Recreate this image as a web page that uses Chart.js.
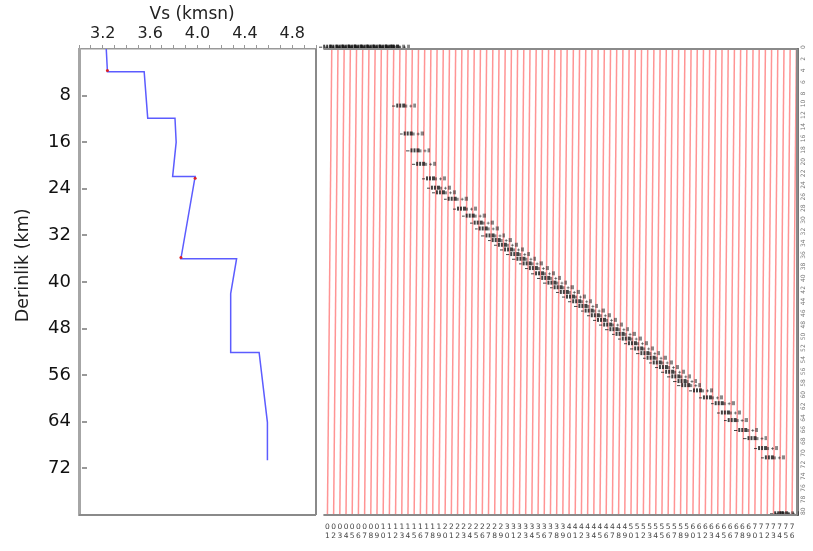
<!DOCTYPE html>
<html>
<head>
<meta charset="utf-8">
<title>Vs - Derinlik</title>
<script src="https://cdn.jsdelivr.net/npm/chart.js@4.4.1/dist/chart.umd.min.js"></script>
<style>
  body { margin: 0; background: #fff; }
  #wrap { position: relative; width: 813px; height: 551px; overflow: hidden; }
  #vs-chart { position: absolute; left: 0; top: 0; }
  #rf-chart { position: absolute; left: 317px; top: 0; }
</style>
</head>
<body>
<div id="wrap">
  <canvas id="vs-chart" width="320" height="551" style="width:320px;height:551px"></canvas>
  <canvas id="rf-chart" width="496" height="551" style="width:496px;height:551px"></canvas>
</div>
<script>
// hiz profili (derinlik km, Vs km/sn)
const depthKm = [0, 3.9, 3.9, 11.9, 11.9, 16.0, 21.9, 21.9, 36.0, 36.0, 42.0, 52.1, 52.1, 64.1, 70.6];
const vsKms   = [3.23, 3.24, 3.55, 3.58, 3.81, 3.82, 3.79, 3.98, 3.86, 4.33, 4.28, 4.28, 4.52, 4.59, 4.59];

// gradyan baslangic noktalari (kirmizi)
const nodeDepth = [3.7, 22.2, 35.8];
const nodeVs    = [3.24, 3.98, 3.86];

const vsTickLabels = ['3.2', '3.6', '4.0', '4.4', '4.8'];
const depthTickLabels = [8, 16, 24, 32, 40, 48, 56, 64, 72];

// iz numaralari
const traceLabels = [
  '01','02','03','04','05','06','07','08','09','10','11','12','13','14','15','16','17','18','19',
  '20','21','22','23','24','25','26','27','28','29','30','31','32','33','34','35','36','37','38',
  '39','40','41','42','43','44','45','46','47','48','49','50','51','52','53','54','55','56','57',
  '58','59','60','61','62','63','64','65','66','67','68','69','70','71','72','73','74','75','76'
];

// okunan fazlar (iz konumu, derinlik)
const pickTrace = [13.4,14.6,15.7,16.6,18.2,19.0,19.8,21.7,23.2,24.6,25.9,26.7,
  27.8,28.8,29.8,30.8,31.8,32.8,33.8,34.8,35.8,36.8,37.8,38.8,39.8,40.8,41.8,42.8,
  43.8,44.8,45.8,46.8,47.8,48.8,49.8,50.8,51.8,52.8,53.8,54.8,55.8,56.8,57.8,58.8,
  59.4,61.3,62.9,64.8,65.8,66.9,68.6,70.1,71.8,72.9];
const pickDepth = [9.7,14.5,17.4,19.7,22.2,23.8,24.6,25.7,27.4,28.6,29.8,30.8,
  32.0,32.8,33.6,34.4,35.2,36.0,36.8,37.6,38.5,39.3,40.1,40.9,41.7,42.5,43.3,44.1,
  44.9,45.7,46.5,47.3,48.1,48.9,49.7,50.5,51.4,52.2,53.0,53.8,54.6,55.4,56.2,57.0,
  57.7,58.6,59.8,60.8,62.4,63.7,65.4,66.8,68.5,70.1];

const edgePickTrace = [1.6,2.6,3.6,4.6,5.6,6.6,7.6,8.6,9.6,10.6,11.6,12.4, 74.4,75.2];
const edgePickDepth = [-0.4,-0.4,-0.4,-0.4,-0.4,-0.4,-0.4,-0.4,-0.4,-0.4,-0.4,-0.4, 79.7,79.7];

Chart.defaults.font.family = '"DejaVu Sans", sans-serif';
Chart.defaults.color = '#111';

// kucuk etiket gorunumu
const pickMark = document.createElement('canvas');
pickMark.width = 24;
pickMark.height = 6;
(function () {
  const c = pickMark.getContext('2d');
  c.fillStyle = 'rgba(20,20,20,0.8)';
  c.fillRect(0, 3, 3, 1);
  c.fillRect(4, 1, 2, 4);
  c.fillRect(7, 1, 2, 4);
  c.fillRect(10, 1, 3, 4);
  c.fillStyle = 'rgba(20,20,20,0.5)';
  c.fillRect(13, 2, 2, 3);
  c.fillRect(17, 3, 3, 1);
  c.fillRect(18, 2, 1, 3);
  c.fillRect(21, 1, 3, 4);
})();

const frame = {
  id: 'frame',
  afterDraw(chart, args, opts) {
    const { ctx, chartArea: a } = chart;
    ctx.save();
    ctx.strokeStyle = opts.color || '#888';
    ctx.lineWidth = opts.width || 2;
    ctx.beginPath();
    (opts.sides || []).forEach(s => {
      if (s === 'top') { ctx.moveTo(a.left, a.top); ctx.lineTo(a.right, a.top); }
      if (s === 'bottom') { ctx.moveTo(a.left, a.bottom); ctx.lineTo(a.right, a.bottom); }
      if (s === 'left') { ctx.moveTo(a.left, a.top); ctx.lineTo(a.left, a.bottom); }
      if (s === 'right') { ctx.moveTo(a.right, a.top); ctx.lineTo(a.right, a.bottom); }
    });
    ctx.stroke();
    ctx.restore();
  }
};

// sol eksende ice dogru tik cizgileri
const innerTicks = {
  id: 'innerTicks',
  afterDraw(chart) {
    const s = chart.scales.y;
    if (!s) return;
    const ctx = chart.ctx;
    ctx.save();
    ctx.strokeStyle = '#999';
    ctx.lineWidth = 2;
    s.ticks.forEach(t => {
      const y = Math.round(s.getPixelForValue(t.value));
      ctx.beginPath();
      ctx.moveTo(s.right + 3, y);
      ctx.lineTo(s.right + 8, y);
      ctx.stroke();
    });
    ctx.restore();
  }
};

const vsChart = new Chart(document.getElementById('vs-chart'), {
  type: 'scatter',
  data: {
    datasets: [
      {
        data: nodeDepth.map((d, i) => ({ x: nodeVs[i], y: d })),
        pointRadius: 1.5,
        pointBackgroundColor: '#e02020',
        pointBorderWidth: 0
      },
      {
        data: depthKm.map((d, i) => ({ x: vsKms[i], y: d })),
        showLine: true,
        borderColor: '#5c5cff',
        borderWidth: 1.5,
        pointRadius: 0,
        fill: false
      }
    ]
  },
  options: {
    responsive: false,
    animation: false,
    layout: { padding: { left: 0, right: 2, top: 0, bottom: 36 } },
    plugins: {
      legend: { display: false },
      tooltip: { enabled: false },
      frame: { sides: ['bottom', 'right'], color: '#8a8a8a', width: 2 }
    },
    scales: {
      x: {
        type: 'linear',
        position: 'top',
        min: 3.0,
        max: 5.0,
        afterBuildTicks: s => {
          const t = [];
          for (let v = 3.0; v <= 5.0001; v += 0.1) t.push({ value: +v.toFixed(2) });
          s.ticks = t;
        },
        afterFit: s => { s.height = 49; },
        ticks: {
          autoSkip: false,
          maxRotation: 0,
          padding: 2,
          font: { size: 16 },
          color: '#222',
          callback: v => {
            const lbl = Number(v).toFixed(1);
            return vsTickLabels.includes(lbl) && Math.abs(v * 10 % 4) < 0.01 ? lbl : '';
          }
        },
        grid: { drawOnChartArea: false, tickLength: 4, color: '#999', lineWidth: 1 },
        border: { color: '#999', width: 1.5 },
        title: {
          display: true,
          text: 'Vs (kmsn)  ',
          font: { size: 17 },
          color: '#222',
          padding: { top: 4, bottom: 0 }
        }
      },
      y: {
        type: 'linear',
        reverse: true,
        min: 0,
        max: 80,
        afterBuildTicks: s => { s.ticks = depthTickLabels.map(v => ({ value: v })); },
        afterFit: s => { s.width = 79; },
        ticks: { font: { size: 18 }, color: '#111', padding: 8 },
        grid: { display: false, drawTicks: false },
        border: { color: '#a6a6a6', width: 3 },
        title: {
          display: true,
          text: '      Derinlik (km)',
          font: { size: 17.5 },
          color: '#222',
          padding: { top: 13, bottom: 0 }
        }
      }
    }
  },
  plugins: [frame, innerTicks]
});

const traceSets = traceLabels.map((lbl, i) => ({
  data: [{ x: i + 1.7, y: 0 }, { x: i + 1, y: 80 }],
  showLine: true,
  borderColor: 'rgba(255,60,60,0.55)',
  borderWidth: 1.5,
  pointRadius: 0,
  order: 2
}));

const rfChart = new Chart(document.getElementById('rf-chart'), {
  type: 'scatter',
  data: {
    datasets: [
      ...traceSets,
      {
        data: pickTrace.map((t, i) => ({ x: t, y: pickDepth[i] })),
        pointStyle: pickMark,
        order: 0
      },
      {
        data: edgePickTrace.map((t, i) => ({ x: t, y: edgePickDepth[i] })),
        pointStyle: pickMark,
        clip: false,
        order: 0
      }
    ]
  },
  options: {
    responsive: false,
    animation: false,
    layout: { padding: { left: 1, right: 0, top: 49, bottom: 0 } },
    plugins: {
      legend: { display: false },
      tooltip: { enabled: false },
      frame: { sides: ['top', 'right', 'bottom'], color: '#8a8a8a', width: 2 }
    },
    scales: {
      x: {
        type: 'linear',
        min: 0.35,
        max: 76.8,
        afterBuildTicks: s => { s.ticks = traceLabels.map((l, i) => ({ value: i + 1 })); },
        afterFit: s => { s.height = 36; },
        ticks: {
          autoSkip: false,
          maxRotation: 0,
          minRotation: 0,
          padding: 8,
          font: { size: 7.5, lineHeight: 1.15 },
          color: '#444',
          callback: (v, i) => {
            const l = traceLabels[i] || '';
            return [l.charAt(0), l.charAt(1)];
          }
        },
        grid: { display: false, drawTicks: false },
        border: { display: false }
      },
      y: {
        type: 'linear',
        reverse: true,
        min: 0,
        max: 80,
        display: false
      },
      yr: {
        type: 'linear',
        position: 'right',
        reverse: true,
        min: 0,
        max: 80,
        afterFit: s => { s.width = 16; },
        ticks: {
          stepSize: 2,
          autoSkip: false,
          minRotation: 90,
          maxRotation: 90,
          padding: 6,
          font: { size: 6 },
          color: '#777'
        },
        grid: { display: false, drawTicks: false },
        border: { color: '#777', width: 3 }
      }
    }
  },
  plugins: [frame]
});
</script>
</body>
</html>
